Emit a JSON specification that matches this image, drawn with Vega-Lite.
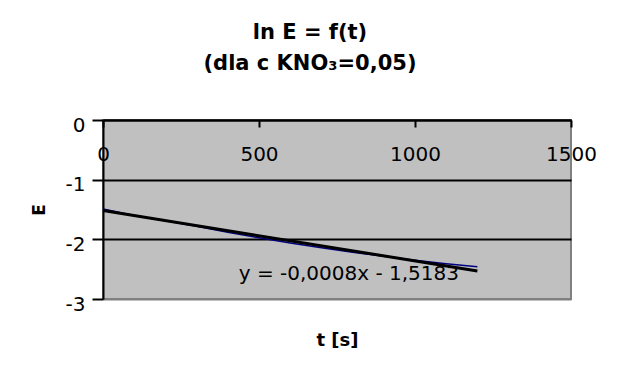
{
  "$schema": "https://vega.github.io/schema/vega-lite/v6.json",
  "width": 468,
  "height": 179,
  "autosize": {"type": "none"},
  "padding": {"left": 103, "top": 120, "right": 46, "bottom": 72},
  "background": "white",
  "title": {
    "text": ["ln E = f(t)", "(dla c KNO₃=0,05)"],
    "font": "DejaVu Sans",
    "fontSize": 21,
    "fontWeight": "bold",
    "lineHeight": 31,
    "anchor": "middle",
    "dx": -27,
    "offset": 41,
    "color": "black"
  },
  "config": {
    "font": "DejaVu Sans",
    "view": {"fill": "#C0C0C0", "stroke": "#808080", "strokeWidth": 2}
  },
  "datasets": {
    "measured": [
      {"t": 0, "E": -1.49},
      {"t": 100, "E": -1.6},
      {"t": 200, "E": -1.69},
      {"t": 300, "E": -1.78},
      {"t": 400, "E": -1.88},
      {"t": 500, "E": -1.975},
      {"t": 600, "E": -2.06},
      {"t": 700, "E": -2.14},
      {"t": 800, "E": -2.215},
      {"t": 900, "E": -2.285},
      {"t": 1000, "E": -2.35},
      {"t": 1100, "E": -2.41},
      {"t": 1200, "E": -2.46}
    ],
    "trend": [
      {"t": 0, "E": -1.5183},
      {"t": 1200, "E": -2.53}
    ],
    "equation": [
      {"text": "y = -0,0008x - 1,5183"}
    ]
  },
  "layer": [
    {
      "data": {"name": "measured"},
      "mark": {"type": "line", "color": "#000080", "strokeWidth": 1.5},
      "encoding": {
        "x": {
          "field": "t",
          "type": "quantitative",
          "scale": {"domain": [0, 1500], "nice": false, "zero": false},
          "axis": {
            "orient": "bottom",
            "offset": -179,
            "values": [0, 500, 1000, 1500],
            "format": "d",
            "grid": false,
            "domainColor": "black",
            "domainWidth": 2,
            "tickColor": "black",
            "tickWidth": 2,
            "tickSize": 7,
            "labelPadding": 17,
            "labelFont": "DejaVu Sans",
            "labelFontSize": 20,
            "labelColor": "black",
            "labelFlush": false,
            "labelOverlap": false,
            "title": "t [s]",
            "titleFont": "DejaVu Sans",
            "titleFontSize": 18,
            "titleFontWeight": "bold",
            "titleColor": "black",
            "titleY": 225,
            "titleBaseline": "alphabetic"
          }
        },
        "y": {
          "field": "E",
          "type": "quantitative",
          "scale": {"domain": [-3, 0], "nice": false, "zero": false},
          "axis": {
            "values": [-3, -2, -1, 0],
            "grid": true,
            "gridColor": {"condition": {"test": "datum.value == -3", "value": "#808080"}, "value": "black"},
            "gridWidth": 2,
            "domainColor": "black",
            "domainWidth": 2,
            "tickColor": "black",
            "tickWidth": 2,
            "tickSize": 11,
            "labelPadding": 7,
            "labelOffset": 5,
            "labelFont": "DejaVu Sans",
            "labelFontSize": 20,
            "labelColor": "black",
            "labelFlush": false,
            "labelOverlap": false,
            "labelExpr": "replace(format(datum.value, 'd'), '\u2212', '-')",
            "title": "E",
            "titleFont": "DejaVu Sans",
            "titleFontSize": 17,
            "titleFontWeight": "bold",
            "titleColor": "black",
            "titleX": -59,
            "titleBaseline": "alphabetic"
          }
        }
      }
    },
    {
      "data": {"name": "trend"},
      "mark": {"type": "line", "color": "black", "strokeWidth": 3},
      "encoding": {
        "x": {"field": "t", "type": "quantitative"},
        "y": {"field": "E", "type": "quantitative"}
      }
    },
    {
      "data": {"name": "equation"},
      "mark": {"type": "text", "font": "DejaVu Sans", "fontSize": 20, "color": "black", "align": "center", "baseline": "middle"},
      "encoding": {
        "x": {"datum": 788, "type": "quantitative"},
        "y": {"datum": -2.58, "type": "quantitative"},
        "text": {"field": "text", "type": "nominal"}
      }
    }
  ]
}
